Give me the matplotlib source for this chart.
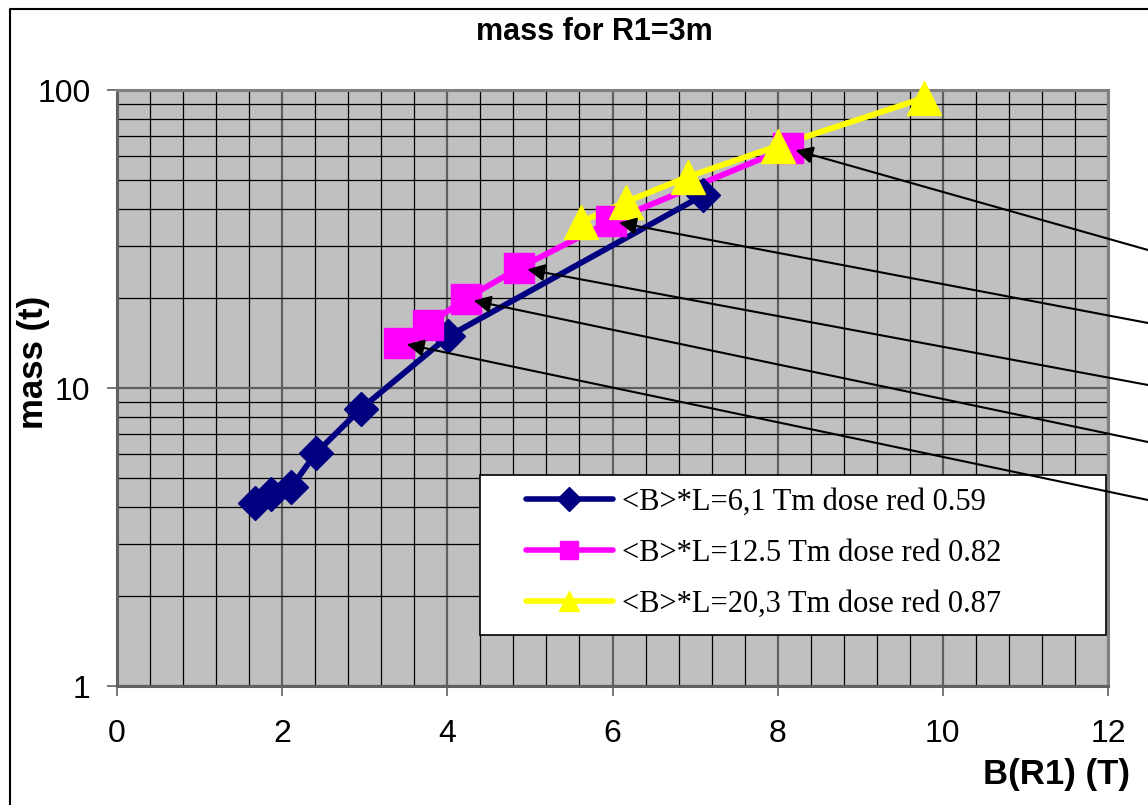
import matplotlib
matplotlib.use('Agg')
import matplotlib.pyplot as plt
from matplotlib.lines import Line2D
from matplotlib.patches import Rectangle
from matplotlib.ticker import FixedLocator, FixedFormatter, MultipleLocator, LogLocator, NullFormatter

plt.rcParams['font.family'] = ['Liberation Sans', 'DejaVu Sans']

# data
b_61 = [1.67, 1.86, 2.11, 2.41, 2.95, 4.01, 7.10]
mass_61 = [4.1, 4.4, 4.65, 6.05, 8.5, 14.9, 44.4]

b_125 = [3.41, 3.76, 4.22, 4.87, 5.98, 8.12]
mass_125 = [14.2, 16.3, 19.9, 25.3, 36.3, 63.9]

b_203 = [5.62, 6.16, 6.91, 8.00, 9.77]
mass_203 = [36.1, 42.1, 51.1, 64.9, 94.0]

series_labels = ['<B>*L=6,1 Tm dose red 0.59',
                 '<B>*L=12.5 Tm dose red 0.82',
                 '<B>*L=20,3 Tm dose red 0.87']
colors = ['#000080', '#FF00FF', '#FFFF00']
markers = ['D', 's', '^']
marker_sizes = [17, 21, 24]
legend_marker_sizes = [12, 13, 15]

# callout arrows point at these points of the 12.5 Tm series
arrow_idx = [5, 4, 3, 2, 0]
arrow_end_y = [250, 323, 385, 442, 500]   # pixel rows where they leave the figure

W, H = 1148, 805
fig = plt.figure(figsize=(W / 100, H / 100), dpi=100)
ax = fig.add_axes([117 / W, (H - 686) / H, (1108 - 117) / W, (686 - 90) / H])
ax.set_facecolor('#C0C0C0')

xs = [b_61, b_125, b_203]
ys = [mass_61, mass_125, mass_203]
for x, y, c in zip(xs, ys, colors):
    ax.plot(x, y, color=c, lw=4.2, zorder=3, solid_capstyle='round', clip_on=False)
for x, y, c, m, ms in zip(xs, ys, colors, markers, marker_sizes):
    ax.plot(x, y, ls='none', marker=m, ms=ms, color=c, mec=c, zorder=4, clip_on=False)

ax.set_yscale('log')
ax.set_xlim(0, 12)
ax.set_ylim(1, 100)

ax.xaxis.set_major_locator(MultipleLocator(2))
ax.xaxis.set_minor_locator(MultipleLocator(0.4))
ax.yaxis.set_major_locator(FixedLocator([1, 10, 100]))
ax.yaxis.set_major_formatter(FixedFormatter(['1', '10', '100']))
ax.yaxis.set_minor_locator(LogLocator(base=10, subs=range(2, 10)))
ax.yaxis.set_minor_formatter(NullFormatter())

ax.grid(which='minor', color='black', lw=0.9, zorder=1)
ax.grid(which='major', color='#606060', lw=1.6, zorder=1)
ax.set_axisbelow(True)

ax.tick_params(which='major', direction='out', length=7, width=1.2, color='#606060',
               labelsize=23, pad=12)
ax.tick_params(axis='x', which='major', pad=17)
ax.tick_params(which='minor', length=0)

for side, sp in ax.spines.items():
    sp.set_color('#808080')
    sp.set_linewidth(2.2)
ax.spines['left'].set_color('#606060')
ax.spines['bottom'].set_color('#606060')

ax.set_title('mass for R1=3m', fontsize=22, fontweight='bold', x=0.482, y=1.084, va='center')
ax.set_ylabel('mass (t)', fontsize=25, fontweight='bold')
ax.yaxis.set_label_coords(-0.068, 0.543)
ax.set_xlabel('B(R1) (T)', fontsize=25, fontweight='bold', va='center')
ax.xaxis.set_label_coords(0.948, -0.148)

# legend box
ax.add_patch(Rectangle((0.3667, 0.0856), 0.631, 0.2685, transform=ax.transAxes,
                       facecolor='white', edgecolor='black', lw=1.2, zorder=6))
handles = [Line2D([], [], color=c, lw=4, marker=m, ms=ms, solid_capstyle='round')
           for c, m, ms in zip(colors, markers, legend_marker_sizes)]
ax.legend(handles, series_labels, loc='center left', bbox_to_anchor=(0.397, 0.222),
          frameon=False, borderpad=0, handlelength=2.85, handletextpad=0.3,
          labelspacing=0.72, prop={'family': 'Liberation Serif', 'size': 22}).set_zorder(7)

for i, yp in zip(arrow_idx, arrow_end_y):
    ax.annotate('', xy=(b_125[i], mass_125[i]), xycoords='data',
                xytext=(1.0, 1 - yp / H), textcoords='figure fraction',
                arrowprops=dict(arrowstyle='-|>', color='black', lw=1.5,
                                mutation_scale=26, shrinkA=0, shrinkB=6),
                annotation_clip=False, zorder=8)

# outer chart frame
fig.add_artist(Line2D([10 / W, 10 / W, 1], [0, 1 - 9 / H, 1 - 9 / H],
                      transform=fig.transFigure, color='black', lw=1.5))

fig.savefig('out.png', dpi=100)
